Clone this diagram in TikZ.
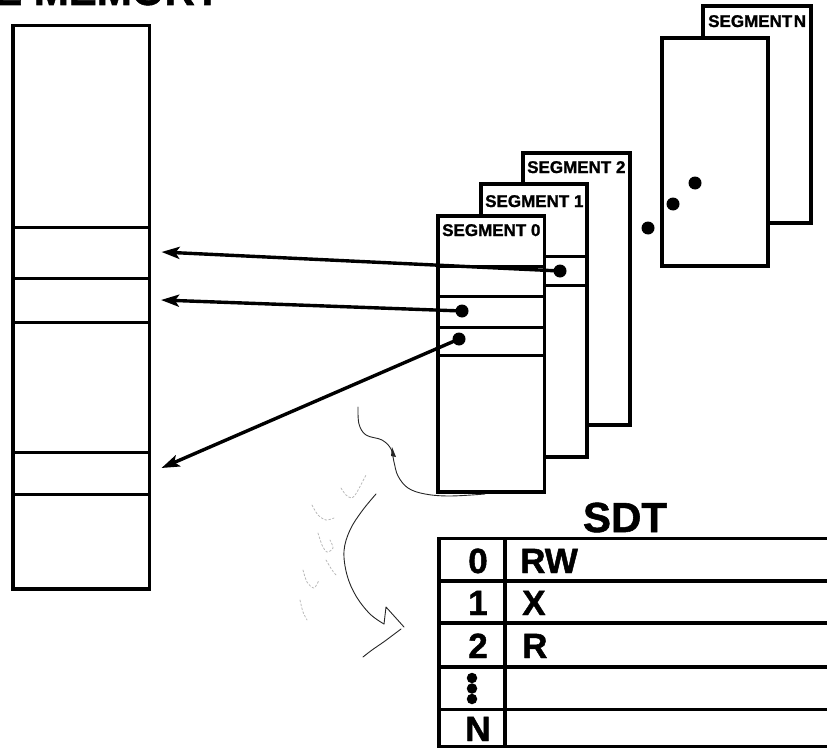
\documentclass[tikz,border=0pt]{standalone}
\usepackage{fontspec}
\setmainfont{Liberation Sans}
\newfontfamily\heavy[FakeBold=1.3]{Liberation Sans Bold}
\usetikzlibrary{arrows.meta}
\begin{document}
\begin{tikzpicture}[x=1pt,y=-1pt,
  membox/.style={draw=black,line width=3.6pt,fill=white},
  segbox/.style={draw=black,line width=3.4pt,fill=white},
  rule/.style={line width=3pt},
  tline/.style={line width=3.4pt},
  dot/.style={circle,fill=black,inner sep=0pt,minimum size=13pt},
  sdot/.style={circle,fill=black,inner sep=0pt,minimum size=10.5pt},
  ptr/.style={line width=3.4pt,-{Stealth[length=18pt,width=12pt,inset=4pt]}},
  seglabel/.style={anchor=base west,font=\fontsize{17}{17}\selectfont\heavy,inner sep=0pt},
  cell/.style={anchor=base,font=\fontsize{35}{35}\selectfont\heavy,inner sep=0pt},
  celltext/.style={anchor=base west,font=\fontsize{35}{35}\selectfont\heavy,inner sep=0pt},
  pen/.style={line width=0.9pt,black!85,line cap=round,line join=round},
  faint/.style={line width=0.8pt,black!28,line cap=round,dash pattern=on 2pt off 2pt}]
\useasboundingbox (0,0) rectangle (827,749);
\clip (0,0) rectangle (827,749);

% title (cut off by the top edge, as in the reference)
\node[anchor=base west,inner sep=0pt,font=\fontsize{42}{42}\selectfont\heavy] (title) at (-6,5) {E MEMORY};

% memory column
\draw[membox] (13,25.5) rectangle (149.5,589);
\foreach \yy in {227,278,322,452,494} \draw[rule] (13,\yy) -- (149.5,\yy);
\coordinate (m1) at (161.5,252);
\coordinate (m2) at (161,300);
\coordinate (m3) at (161.5,468);

% segment N (back) and its front page
\draw[segbox] (703,6) rectangle (811,223);
\node[seglabel] (lN) at (708,27) {SEGMENT\hspace{1.5pt}N};
\draw[segbox] (662,38) rectangle (768,266);
\node[dot] (e1) at (648,228) {};
\node[dot] (e2) at (673,204) {};
\node[dot] (e3) at (695,183) {};

% segment 2
\draw[segbox] (523,153) rectangle (630,425);
\node[seglabel] (l2) at (527,173) {SEGMENT 2};
% segment 1
\draw[segbox] (481,184) rectangle (587,457);
\node[seglabel] (l1) at (485,207) {SEGMENT 1};
\draw[rule] (481,256) -- (587,256);
\draw[rule] (481,285) -- (587,285);
% segment 0
\draw[segbox] (438,216) rectangle (544.5,492);
\node[seglabel] (l0) at (442,236) {SEGMENT 0};
\foreach \yy in {266,296,327,355} \draw[rule] (438,\yy) -- (544.5,\yy);

% pointers
\node[dot] (d1) at (560,271) {};
\node[dot] (d2) at (462,311) {};
\node[dot] (d3) at (459,339) {};
\draw[ptr] (d1.center) -- (m1);
\draw[ptr] (d2.center) -- (m2);
\draw[ptr] (d3.center) -- (m3);

% SDT
\node[anchor=base,inner sep=0pt,font=\fontsize{42}{42}\selectfont\heavy] (sdt) at (625,532) {SDT};
\draw[tline] (840,538.5) -- (439,538.5) -- (439,746.5) -- (840,746.5);
\draw[tline] (505,538.5) -- (505,746.5);
\foreach \yy in {581,623,667,709.5} \draw[tline] (439,\yy) -- (840,\yy);
\node[cell] (r0) at (478,573) {0};
\node[cell] (r1) at (478,615) {1};
\node[cell] (r2) at (478,658) {2};
\node[sdot] (v1) at (472,678) {};
\node[sdot] (v2) at (472,688.5) {};
\node[sdot] (v3) at (472,699) {};
\node[cell] (rN) at (478,741) {N};
\node[celltext] (p0) at (520,573) {RW};
\node[celltext] (p1) at (522,615) {X};
\node[celltext] (p2) at (522,658) {R};

% hand-drawn pen marks
\draw[pen] plot[smooth,tension=0.6] coordinates {(358,407) (359,424) (366,435) (382,440) (391,449) (394,462) (398,476) (408,488) (425,494) (450,496) (485,494)};
\fill[black!85] (392,447) -- (396,457) -- (391,456) -- cycle;
\draw[pen] plot[smooth,tension=0.6] coordinates {(376,494) (362,511) (350,530) (344,551) (347,575) (356,596) (370,614) (384,624)};
\draw[pen] (384,624) -- (386,607) -- (404,627);
\draw[pen] plot[smooth] coordinates {(363,657) (372,650) (385,641) (401,629)};

% faint handwriting
\draw[faint] plot[smooth] coordinates {(341,488) (346,495) (352,498) (357,492) (366,475)};
\draw[faint] plot[smooth] coordinates {(312,505) (318,515) (326,520) (334,518)};
\draw[faint] plot[smooth] coordinates {(318,533) (322,545) (327,552) (333,548) (330,540)};
\draw[faint] plot[smooth] coordinates {(303,570) (307,582) (314,588) (319,580)};
\draw[faint] plot[smooth] coordinates {(300,600) (303,612) (307,620)};
\draw[faint] plot[smooth] coordinates {(326,560) (332,570) (336,575)};
\end{tikzpicture}
\end{document}
